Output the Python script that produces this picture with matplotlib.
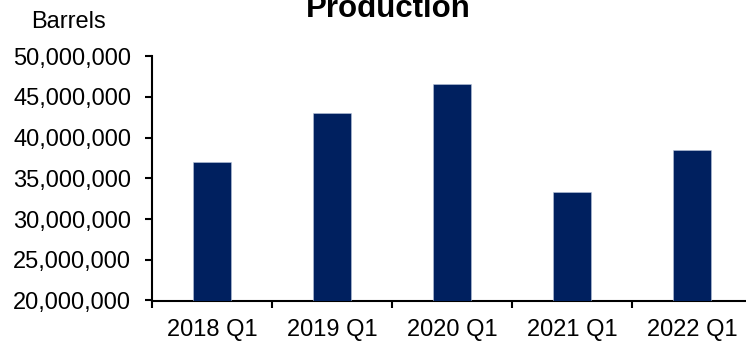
import numpy as np
import matplotlib
matplotlib.use("Agg")
import matplotlib.pyplot as plt
from matplotlib.ticker import FuncFormatter, FixedLocator

plt.rcParams["font.family"] = ["Liberation Sans", "DejaVu Sans"]

# Quarterly production, barrels
quarters = ["2018 Q1", "2019 Q1", "2020 Q1", "2021 Q1", "2022 Q1"]
barrels = [37_000_000, 43_000_000, 46_600_000, 33_300_000, 38_500_000]
y_ticks = [20_000_000, 25_000_000, 30_000_000, 35_000_000,
           40_000_000, 45_000_000, 50_000_000]

W, H, DPI = 746, 342, 100
fig = plt.figure(figsize=(W / DPI, H / DPI), dpi=DPI)
ax = fig.add_axes([152 / W, 1 - 300.5 / H, 600 / W, 244.2 / H])

x = np.arange(len(quarters))
ax.bar(x, barrels, width=0.315, color="#00205F", edgecolor="#B8C4DA",
       linewidth=0.4, zorder=3)

ax.set_xlim(-0.5, len(quarters) - 0.5)
ax.set_ylim(y_ticks[0], y_ticks[-1])

ax.set_yticks(y_ticks)
ax.yaxis.set_major_formatter(FuncFormatter(lambda v, _: f"{int(v):,}"))
ax.tick_params(axis="y", direction="out", length=5, width=1.5,
               labelsize=17, pad=10, colors="black")

# category labels centred on the bars, tick marks between categories
ax.set_xticks(x)
ax.set_xticklabels(quarters)
ax.xaxis.set_minor_locator(FixedLocator(np.arange(-0.5, len(quarters), 1.0)))
ax.tick_params(axis="x", which="major", length=0, labelsize=17, pad=13)
ax.tick_params(axis="x", which="minor", direction="out", length=5, width=1.5)

for side in ("top", "right"):
    ax.spines[side].set_visible(False)
for side in ("left", "bottom"):
    ax.spines[side].set_linewidth(1.5)
    ax.spines[side].set_color("black")

fig.text(388 / W, 1 - 17 / H, "Production", ha="center", va="baseline",
         fontsize=22.5, fontweight="bold")
fig.text(31 / W, 1 - 27.5 / H, "Barrels", ha="left", va="baseline",
         fontsize=17)

fig.savefig("out.png", dpi=DPI)
